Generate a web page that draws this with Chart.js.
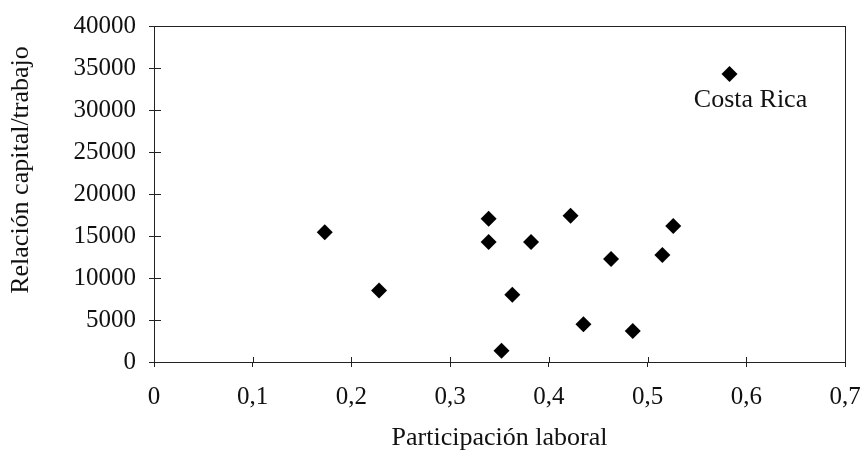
<!DOCTYPE html>
<html>
<head>
<meta charset="utf-8">
<script src="https://cdn.jsdelivr.net/npm/chart.js@4"></script>
<style>
  html, body { margin: 0; padding: 0; background: #fff; }
  #wrap { width: 861px; height: 454px; }
</style>
</head>
<body>
<div id="wrap"><canvas id="c" width="861" height="454"></canvas></div>
<script>
// Data
const xValues = [0.173, 0.228, 0.339, 0.339, 0.352, 0.363, 0.382, 0.422, 0.435, 0.463, 0.485, 0.515, 0.526, 0.583];
const yValues = [15450, 8500, 17050, 14300, 1350, 8000, 14300, 17400, 4500, 12250, 3700, 12750, 16200, 34300];
const pointLabels = ['', '', '', '', '', '', '', '', '', '', '', '', '', 'Costa Rica'];
const xTickLabels = ['0', '0,1', '0,2', '0,3', '0,4', '0,5', '0,6', '0,7'];
const yTickLabels = ['0', '5000', '10000', '15000', '20000', '25000', '30000', '35000', '40000'];
const xTitle = 'Participación laboral';
const yTitle = 'Relación capital/trabajo';

const FONT = 'Liberation Serif';
const INK = '#111';
const LINE = '#222';

const frameAndTicks = {
  id: 'frameAndTicks',
  afterDraw(chart) {
    const {ctx, chartArea: a, scales} = chart;
    ctx.save();
    ctx.strokeStyle = LINE;
    ctx.lineWidth = 1;
    ctx.strokeRect(a.left + 0.5, a.top + 0.5, a.right - a.left, a.bottom - a.top);
    // inner halves of the tick marks
    ctx.beginPath();
    scales.x.ticks.forEach((t) => {
      const px = Math.round(scales.x.getPixelForValue(t.value)) + 0.5;
      ctx.moveTo(px, a.bottom);
      ctx.lineTo(px, a.bottom - 5);
    });
    scales.y.ticks.forEach((t) => {
      const py = Math.round(scales.y.getPixelForValue(t.value)) + 0.5;
      ctx.moveTo(a.left, py);
      ctx.lineTo(a.left + 7, py);
    });
    ctx.stroke();
    ctx.fillStyle = INK;
    ctx.textAlign = 'center';
    ctx.textBaseline = 'middle';
    // y axis title
    ctx.font = '26px "' + FONT + '"';
    ctx.save();
    ctx.translate(21, a.top + (a.bottom - a.top) / 2 - 24);
    ctx.rotate(-Math.PI / 2);
    ctx.fillText(yTitle, 0, 0);
    ctx.restore();
    // point annotations
    const meta = chart.getDatasetMeta(0);
    pointLabels.forEach((lbl, i) => {
      if (!lbl) return;
      const el = meta.data[i];
      ctx.fillText(lbl, el.x + 21, el.y + 26);
    });
    ctx.restore();
  }
};

new Chart(document.getElementById('c'), {
  type: 'scatter',
  data: {
    datasets: [{
      data: xValues.map((x, i) => ({x: x, y: yValues[i]})),
      pointStyle: 'rectRot',
      pointRadius: 8,
      pointHoverRadius: 8,
      backgroundColor: '#000',
      borderColor: '#000',
      borderWidth: 0
    }]
  },
  options: {
    responsive: false,
    animation: false,
    events: [],
    layout: { padding: { top: 26, right: 16, bottom: 0, left: 0 } },
    plugins: { legend: { display: false }, tooltip: { enabled: false } },
    scales: {
      x: {
        type: 'linear',
        min: 0, max: 0.7,
        afterFit(s) { s.height = 92; s.paddingRight = 0; s.paddingLeft = 0; },
        border: { color: LINE, width: 1 },
        grid: { drawOnChartArea: false, drawTicks: true, tickLength: 5, color: LINE },
        ticks: {
          stepSize: 0.1,
          padding: 15,
          color: INK,
          font: { family: FONT, size: 25 },
          maxRotation: 0,
          callback: (v, i) => xTickLabels[i]
        },
        title: {
          display: true, text: xTitle, color: INK,
          font: { family: FONT, size: 26 },
          padding: { top: 0, bottom: 0 }
        }
      },
      y: {
        type: 'linear',
        min: 0, max: 40000,
        afterFit(s) { s.width = 154; s.paddingTop = 0; s.paddingBottom = 0; },
        border: { color: LINE, width: 1 },
        grid: { drawOnChartArea: false, drawTicks: true, tickLength: 5, color: LINE },
        ticks: {
          stepSize: 5000,
          padding: 13,
          color: INK,
          font: { family: FONT, size: 25 },
          callback: (v, i) => yTickLabels[i]
        },
        title: { display: false }
      }
    }
  },
  plugins: [frameAndTicks]
});
</script>
</body>
</html>
